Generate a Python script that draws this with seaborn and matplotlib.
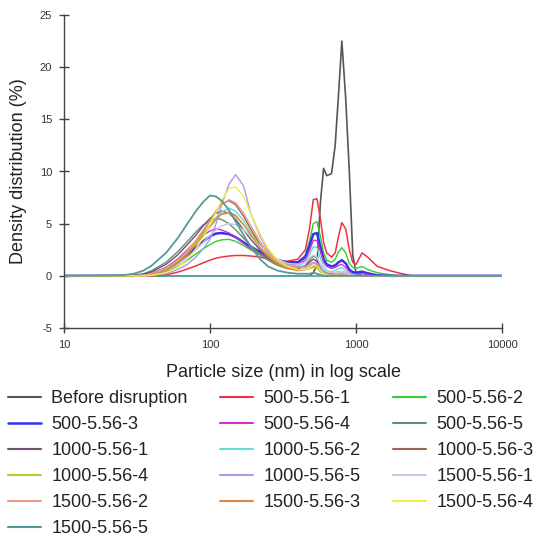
import numpy as np
import pandas as pd
import matplotlib
matplotlib.use("Agg")
import matplotlib.pyplot as plt
import seaborn as sns

sns.set_style("white")
plt.rcParams["font.family"] = ["Liberation Sans", "DejaVu Sans"]
plt.rcParams["axes.unicode_minus"] = False

# particle sizes (nm) shared by all series
sizes = [10, 25, 30, 35, 40, 50, 60, 70, 80, 90, 100, 110, 120, 135, 150, 170, 190,
         220, 250, 290, 340, 400, 450, 480, 510, 540, 570, 600, 630, 680, 720, 760,
         800, 850, 900, 950, 1000, 1100, 1200, 1400, 1700, 2000, 2400, 10000]

series_names = ["Before disruption", "500-5.56-1", "500-5.56-2", "500-5.56-3",
                "500-5.56-4", "500-5.56-5", "1000-5.56-1", "1000-5.56-2",
                "1000-5.56-3", "1000-5.56-4", "1000-5.56-5", "1500-5.56-1",
                "1500-5.56-2", "1500-5.56-3", "1500-5.56-4", "1500-5.56-5"]

before = [0, 0, 0, 0, 0, 0, 0, 0, 0, 0, 0, 0, 0, 0, 0, 0, 0,
          0, 0, 0, 0, 0, 0, 0, 0.3, 1.0, 7.0, 10.3, 9.6, 9.8, 12.5, 17.5,
          22.5, 17.0, 10.0, 2.0, 0.3, 0, 0, 0, 0, 0, 0, 0]
s500_1 = [0, 0, 0, 0, 0, 0.1, 0.35, 0.65, 0.95, 1.25, 1.5, 1.7, 1.8, 1.9, 1.95, 1.95, 1.9,
          1.8, 1.6, 1.4, 1.4, 1.6, 2.5, 4.5, 7.3, 7.4, 5.5, 3.2, 2.2, 1.8, 2.2, 3.8,
          5.1, 4.5, 2.5, 1.3, 1.1, 2.2, 1.8, 0.9, 0.5, 0.25, 0, 0]
s500_2 = [0, 0, 0, 0, 0.1, 0.4, 0.9, 1.5, 2.1, 2.6, 3.0, 3.3, 3.45, 3.5, 3.3, 2.9, 2.5,
          2.0, 1.6, 1.3, 1.2, 1.3, 2.0, 3.3, 5.0, 5.2, 3.8, 2.2, 1.5, 1.3, 1.6, 2.3,
          2.7, 2.2, 1.2, 0.8, 0.7, 0.9, 0.6, 0.3, 0.1, 0, 0, 0]
s500_3 = [0, 0, 0, 0.05, 0.2, 0.7, 1.3, 2.0, 2.7, 3.3, 3.8, 4.05, 4.1, 4.0, 3.7, 3.2, 2.8,
          2.3, 1.9, 1.5, 1.3, 1.3, 1.8, 2.9, 4.0, 4.1, 2.8, 1.6, 1.1, 0.9, 1.0, 1.3,
          1.5, 1.2, 0.6, 0.35, 0.3, 0.4, 0.25, 0.05, 0, 0, 0, 0]
s500_4 = [0, 0, 0, 0.05, 0.2, 0.8, 1.6, 2.5, 3.3, 3.9, 4.3, 4.5, 4.4, 4.1, 3.7, 3.1, 2.6,
          2.1, 1.7, 1.3, 1.1, 1.1, 1.5, 2.4, 3.4, 3.4, 2.3, 1.3, 0.9, 0.7, 0.8, 1.0,
          1.1, 0.8, 0.4, 0.2, 0.15, 0.2, 0.1, 0, 0, 0, 0, 0]
s500_5 = [0, 0, 0.05, 0.2, 0.5, 1.3, 2.3, 3.3, 4.2, 4.9, 5.3, 5.5, 5.4, 5.0, 4.4, 3.6, 2.9,
          2.1, 1.5, 1.0, 0.7, 0.7, 1.0, 1.5, 1.9, 1.7, 1.0, 0.5, 0.3, 0.2, 0.3, 0.4,
          0.4, 0.3, 0.1, 0, 0, 0, 0, 0, 0, 0, 0, 0]
s1000_1 = [0, 0, 0.05, 0.15, 0.4, 1.1, 2.0, 3.0, 3.9, 4.8, 5.5, 6.0, 6.2, 6.0, 5.4, 4.4, 3.5,
           2.5, 1.7, 1.1, 0.8, 0.7, 0.9, 1.3, 1.6, 1.4, 0.8, 0.4, 0.2, 0.1, 0.1, 0.1,
           0.2, 0.1, 0, 0, 0, 0, 0, 0, 0, 0, 0, 0]
s1000_2 = [0, 0, 0, 0.05, 0.2, 0.7, 1.4, 2.3, 3.2, 4.1, 4.9, 5.6, 6.1, 6.5, 6.2, 5.3, 4.2,
           3.0, 2.1, 1.4, 1.0, 0.9, 1.3, 2.0, 2.8, 2.7, 1.7, 0.9, 0.5, 0.4, 0.5, 0.7,
           0.8, 0.5, 0.2, 0.1, 0.05, 0, 0, 0, 0, 0, 0, 0]
s1000_3 = [0, 0, 0, 0, 0.1, 0.5, 1.2, 2.1, 3.2, 4.3, 5.3, 6.2, 6.9, 7.2, 6.8, 5.7, 4.5,
           3.0, 2.0, 1.2, 0.8, 0.6, 0.6, 0.8, 0.9, 0.8, 0.4, 0.2, 0.1, 0, 0, 0,
           0, 0, 0, 0, 0, 0, 0, 0, 0, 0, 0, 0]
s1000_4 = [0, 0, 0, 0.05, 0.2, 0.7, 1.4, 2.3, 3.2, 4.1, 4.9, 5.5, 5.9, 6.0, 5.7, 4.9, 4.0,
           2.9, 2.0, 1.3, 0.8, 0.6, 0.6, 0.7, 0.8, 0.7, 0.4, 0.2, 0.1, 0, 0, 0,
           0, 0, 0, 0, 0, 0, 0, 0, 0, 0, 0, 0]
s1000_5 = [0, 0, 0, 0, 0.05, 0.2, 0.6, 1.1, 1.8, 2.6, 3.5, 5.0, 6.8, 8.8, 9.7, 8.6, 6.0,
           3.8, 2.4, 1.5, 1.1, 0.9, 0.9, 1.1, 1.3, 1.2, 0.8, 0.4, 0.2, 0.1, 0.1, 0.2,
           0.2, 0.1, 0, 0, 0, 0, 0, 0, 0, 0, 0, 0]
s1500_1 = [0, 0, 0, 0, 0.1, 0.5, 1.0, 1.7, 2.5, 3.2, 3.9, 4.4, 4.8, 5.0, 4.9, 4.4, 3.8,
           2.9, 2.2, 1.6, 1.2, 1.1, 1.3, 1.7, 2.0, 1.8, 1.1, 0.6, 0.4, 0.3, 0.3, 0.4,
           0.4, 0.3, 0.1, 0, 0, 0, 0, 0, 0, 0, 0, 0]
s1500_2 = [0, 0, 0, 0.05, 0.2, 0.7, 1.5, 2.4, 3.4, 4.4, 5.3, 6.1, 6.8, 7.3, 7.0, 6.0, 4.8,
           3.3, 2.2, 1.4, 1.0, 0.8, 0.8, 1.0, 1.2, 1.1, 0.6, 0.3, 0.15, 0.1, 0.1, 0.15,
           0.2, 0.1, 0, 0, 0, 0, 0, 0, 0, 0, 0, 0]
s1500_3 = [0, 0, 0, 0, 0.1, 0.5, 1.2, 2.0, 3.0, 3.9, 4.7, 5.4, 5.9, 6.1, 5.8, 4.9, 3.9,
           2.7, 1.8, 1.1, 0.7, 0.5, 0.6, 0.8, 1.0, 0.9, 0.5, 0.2, 0.1, 0, 0, 0,
           0, 0, 0, 0, 0, 0, 0, 0, 0, 0, 0, 0]
s1500_4 = [0, 0, 0, 0, 0.05, 0.3, 0.8, 1.6, 2.6, 3.7, 4.9, 6.1, 7.2, 8.4, 8.5, 7.6, 6.0,
           4.0, 2.6, 1.5, 0.9, 0.6, 0.6, 0.8, 1.0, 0.9, 0.5, 0.2, 0.1, 0, 0, 0,
           0, 0, 0, 0, 0, 0, 0, 0, 0, 0, 0, 0]
s1500_5 = [0, 0.05, 0.2, 0.5, 1.0, 2.2, 3.6, 5.0, 6.2, 7.1, 7.7, 7.6, 7.2, 6.3, 5.2, 3.9, 2.8,
           1.6, 0.9, 0.5, 0.3, 0.2, 0.2, 0.2, 0.3, 0.2, 0.1, 0, 0, 0, 0, 0,
           0, 0, 0, 0, 0, 0, 0, 0, 0, 0, 0, 0]

series_values = [before, s500_1, s500_2, s500_3, s500_4, s500_5, s1000_1, s1000_2,
                 s1000_3, s1000_4, s1000_5, s1500_1, s1500_2, s1500_3, s1500_4, s1500_5]

colors = ["#555555", "#ee3344", "#33cc33", "#3333ee", "#cc33cc", "#5f9070",
          "#705070", "#66dddd", "#996655", "#bbcc33", "#aa99ee", "#c8c8ee",
          "#ee9988", "#dd8844", "#eeee44", "#559999"]
widths = [1.2, 1.1, 1.0, 1.8, 1.0, 1.0, 1.0, 1.0, 1.0, 1.0, 1.0, 1.0, 1.0, 1.0, 1.0, 1.3]

y_ticks = [-5, 0, 5, 10, 15, 20, 25]
x_ticks = [10, 100, 1000, 10000]
x_tick_labels = ["10", "100", "1000", "10000"]

fig = plt.figure(figsize=(5.34, 5.36), dpi=100)
ax = fig.add_axes([64 / 534, 1 - 328 / 536, (502 - 64) / 534, (328 - 15) / 536])

for k, (name, vals, col, lw) in enumerate(zip(series_names, series_values, colors, widths)):
    df = pd.DataFrame({"size": sizes, "value": vals})
    sns.lineplot(data=df, x="size", y="value", color=col, linewidth=lw, ax=ax,
                 estimator=None, sort=False)
    ax.lines[-1].set_zorder(1.0 if k == 0 else 2.0 + k * 0.01)

# zero reference line (Excel-style series baseline)
ax.axhline(0, color="#55aaaa", linewidth=1.3, zorder=1.5)

ax.set_xscale("log")
ax.set_xlim(10, 10000)
ax.set_ylim(-5, 25)
ax.set_xticks(x_ticks)
ax.set_xticklabels(x_tick_labels)
ax.minorticks_off()
ax.set_yticks(y_ticks)
for s in ["top", "right"]:
    ax.spines[s].set_visible(False)
for s in ["left", "bottom"]:
    ax.spines[s].set_color("#444444")
    ax.spines[s].set_linewidth(1.0)
ax.tick_params(bottom=True, left=True, direction="inout", length=7, width=1,
               color="#444444", labelsize=8, labelcolor="#333333", pad=5)
ax.set_xlabel("Particle size (nm) in log scale", fontsize=13, color="#222222", labelpad=10)
ax.set_ylabel("Density distribution (%)", fontsize=13, color="#222222", labelpad=9)

# legend rows filled left-to-right (3 columns)
order = []
ncol = 3
nrow = int(np.ceil(len(series_names) / ncol))
for c in range(ncol):
    for r in range(nrow):
        i = r * ncol + c
        if i < len(series_names):
            order.append(i)
leg_handles = []
for i in order:
    h = matplotlib.lines.Line2D([], [], color=colors[i], linewidth=1.8 if i == 3 else 1.5)
    leg_handles.append(h)
fig.legend(leg_handles, [series_names[i] for i in order],
           loc="upper left", bbox_to_anchor=(8 / 534, 1 - 390 / 536), ncol=3,
           frameon=False, fontsize=13, handlelength=1.8, handletextpad=0.6,
           columnspacing=1.8, labelspacing=0.5, borderaxespad=0, borderpad=0,
           labelcolor="#222222")

fig.savefig("out.png", dpi=100)
